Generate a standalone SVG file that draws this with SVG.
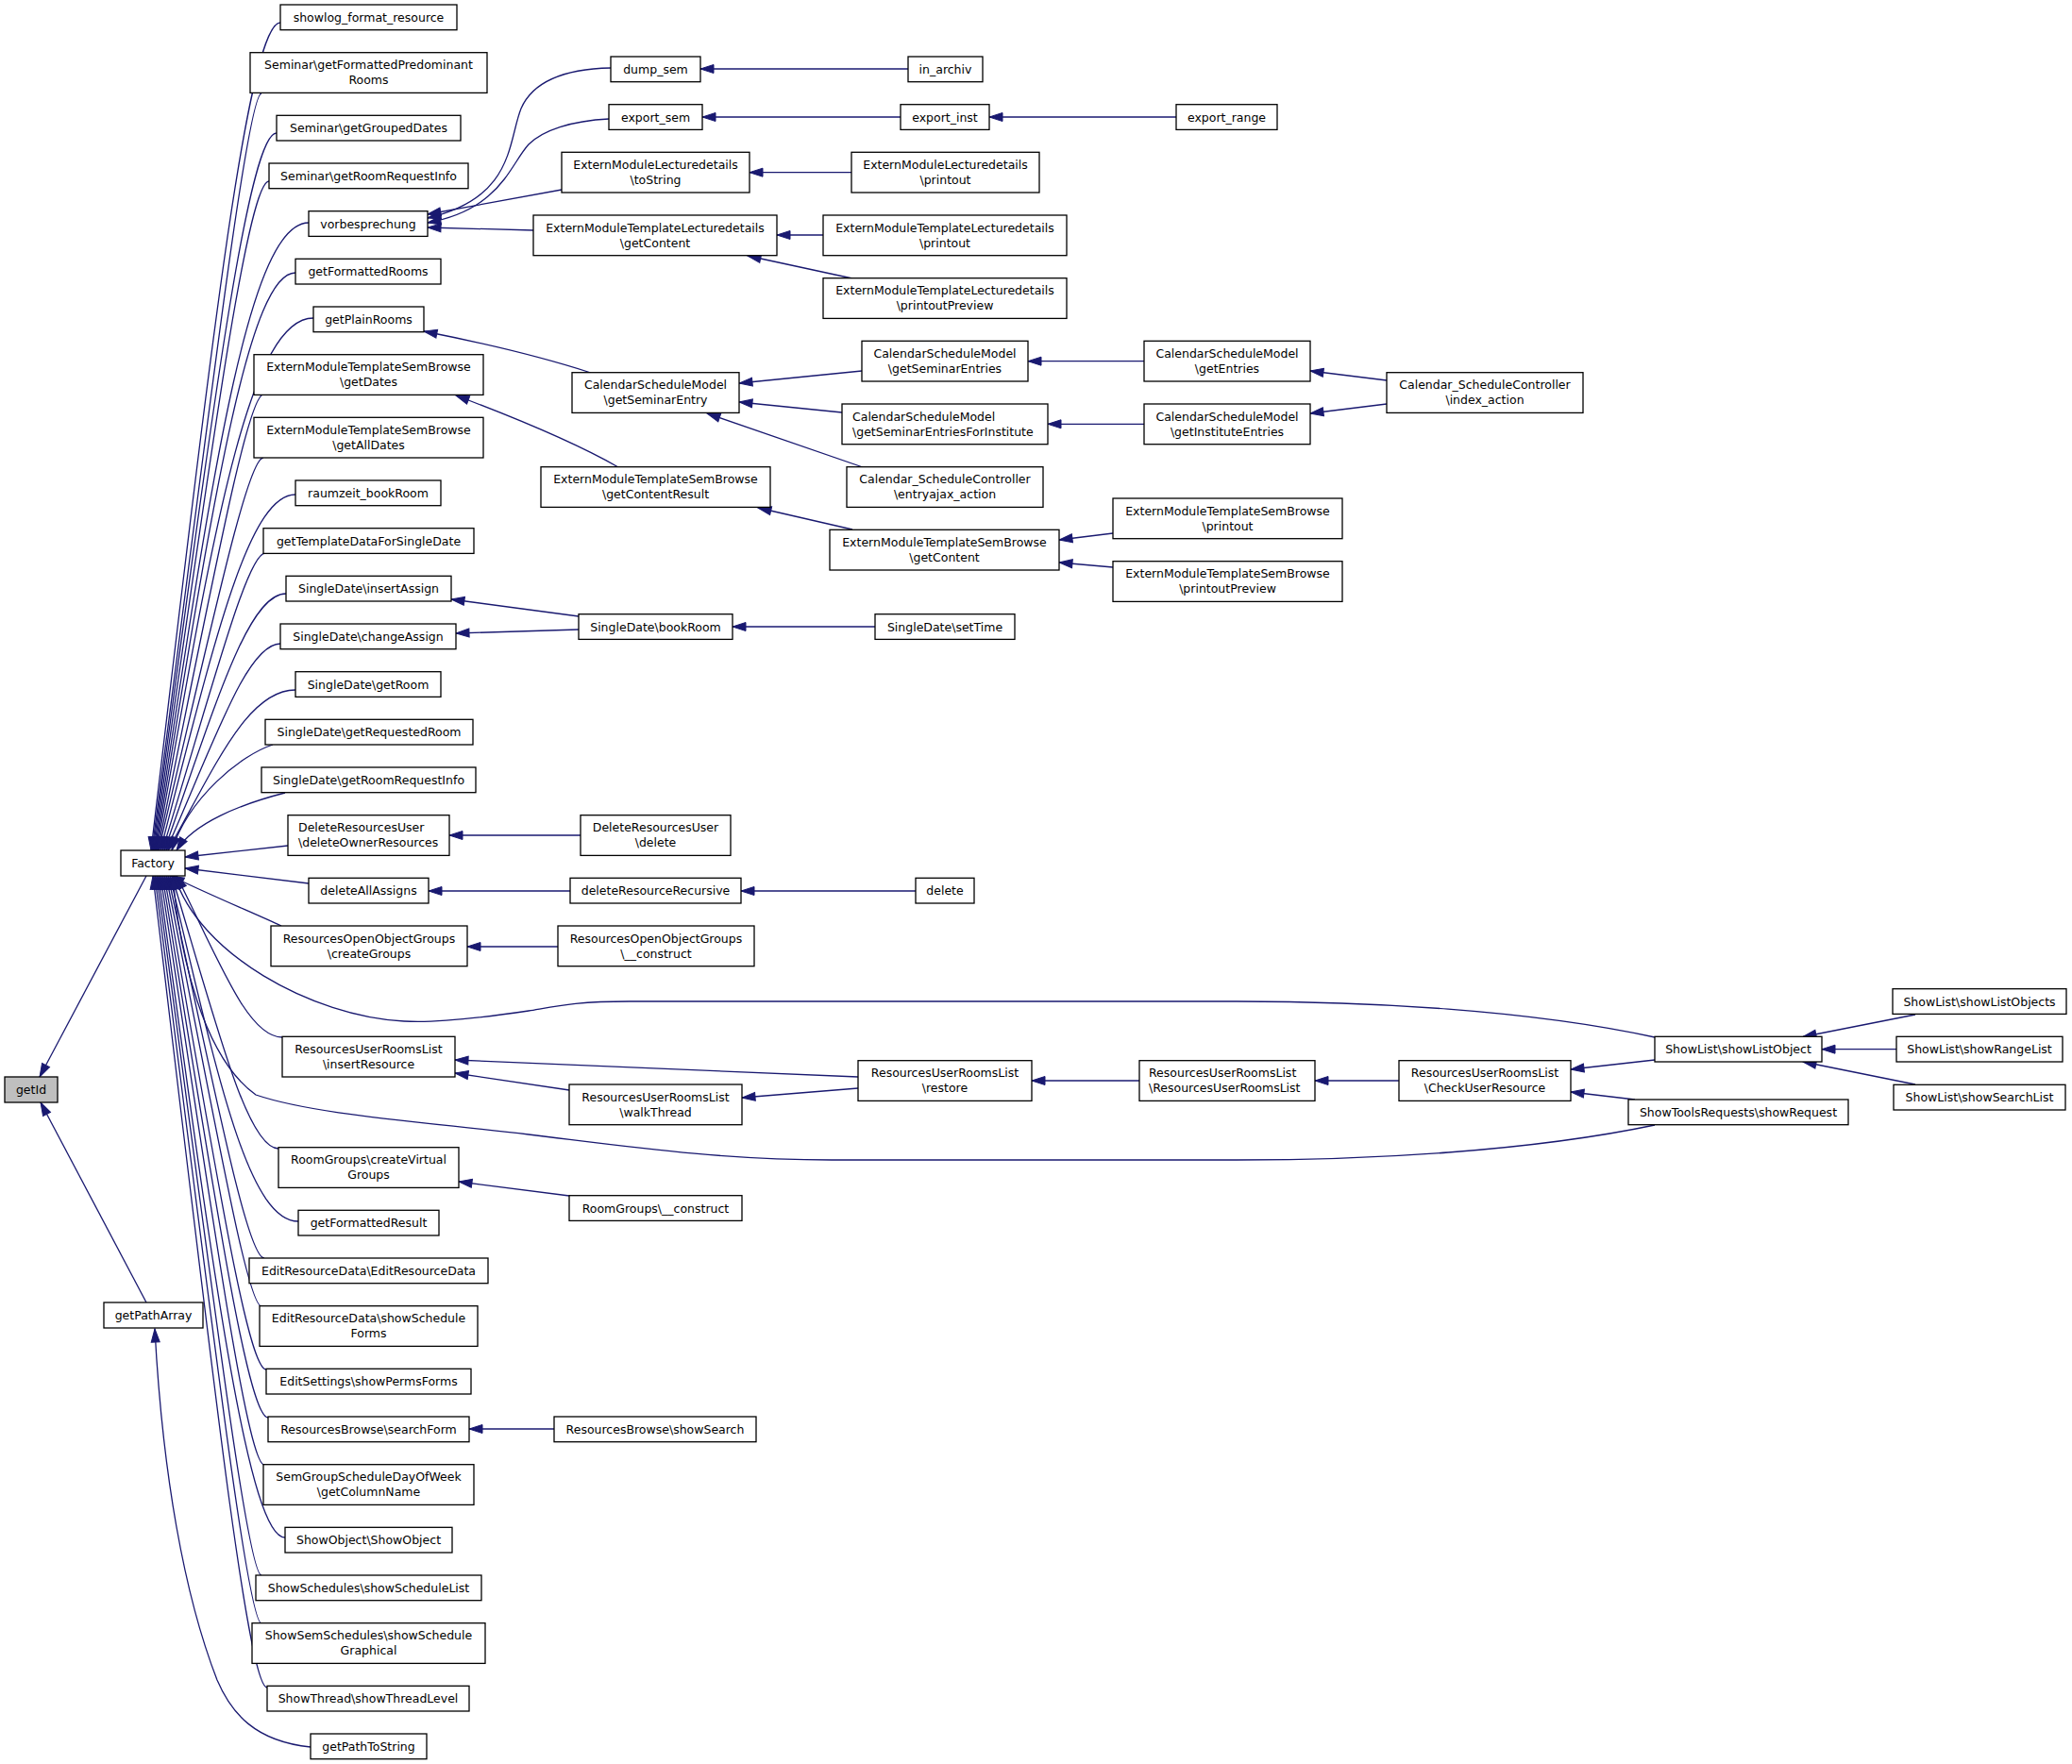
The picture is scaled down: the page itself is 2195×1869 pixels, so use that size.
<svg xmlns="http://www.w3.org/2000/svg" width="2195" height="1869" viewBox="0 0 2195 1869">
<style>
.n rect{fill:#fff;stroke:#000;stroke-width:1.3}
.n text{font-family:"DejaVu Sans",sans-serif;font-size:12.5px;fill:#000;text-anchor:middle}
.n text.l{text-anchor:start}
#edges path{fill:none;stroke:#191970;stroke-width:1.3;marker-end:url(#a)}
</style>
<defs>
<marker id="a" markerWidth="15" markerHeight="11" refX="14" refY="5" orient="auto" markerUnits="userSpaceOnUse" viewBox="0 0 15 10" overflow="visible">
<path d="M0,0.5 L14,5 L0,9.5 z" fill="#191970" stroke="#191970" stroke-width="1"/>
</marker>
</defs>
<rect width="2195" height="1869" fill="#fff"/>
<g id="edges">
<path d="M155,928 L42,1141"/>
<path d="M155,1380 L43,1168"/>
<path d="M329,1851 C270,1845 245,1815 230,1780 C195,1690 172,1560 164,1408"/>
<path d="M297,24 C262,24 221,388 160,901"/>
<path d="M277,99 C262,99 222,433 161,901"/>
<path d="M293,141 C262,141 222,458 162,901"/>
<path d="M285,192 C262,192 222,489 163,901"/>
<path d="M327,236 C262,236 223,515 164,901"/>
<path d="M313,289 C262,289 223,547 165,901"/>
<path d="M332,337 C262,337 224,576 166,901"/>
<path d="M279,418 C262,418 224,624 167,901"/>
<path d="M279,485 C262,485 224,665 168,901"/>
<path d="M313,524 C262,524 225,688 170,901"/>
<path d="M281,586 C262,586 226,725 172,901"/>
<path d="M303,629 C262,629 227,751 174,901"/>
<path d="M297,682 C262,682 228,783 176,901"/>
<path d="M313,731 C262,731 228,812 178,901"/>
<path d="M289,789 C255,800 200,845 182,901"/>
<path d="M302,840 C255,852 205,872 187,901"/>
<path d="M305,896 L196,908"/>
<path d="M327,936 L196,920"/>
<path d="M298,981 C270,968 215,945 181,928"/>
<path d="M299,1099 C262,1099 232,1017 187,928"/>
<path d="M295,1217 C262,1217 230,1088 182,928"/>
<path d="M316,1294 C262,1294 229,1134 180,928"/>
<path d="M280,1333 C262,1333 228,1158 178,928"/>
<path d="M277,1384 C262,1384 228,1188 176,928"/>
<path d="M282,1451 C262,1451 227,1229 174,928"/>
<path d="M284,1502 C262,1502 226,1259 172,928"/>
<path d="M280,1552 C262,1552 225,1289 170,928"/>
<path d="M302,1629 C262,1629 224,1335 168,928"/>
<path d="M277,1669 C262,1669 224,1359 166,928"/>
<path d="M277,1720 C262,1720 223,1390 164,928"/>
<path d="M283,1788 C262,1788 222,1431 162,928"/>
<path d="M1753,1099 C1620,1070 1450,1061 1310,1061 L667,1061 C610,1061 590,1066 560,1071 C500,1080 460,1084 428,1082 C330,1077 210,1010 185,928"/>
<path d="M1753,1192 C1620,1220 1450,1229 1310,1229 L881,1229 C760,1229 660,1214 560,1202 C430,1187 330,1180 271,1160 C215,1120 190,1010 183,928"/>
<path d="M647,72 C600,73 565,85 552,115 C538,150 545,210 453,231"/>
<path d="M645,126 C605,128 575,138 560,153 C540,175 530,222 453,236"/>
<path d="M595,201 L453,227"/>
<path d="M565,244 L453,241"/>
<path d="M962,73 L742,73"/>
<path d="M954,124 L744,124"/>
<path d="M1246,124 L1048,124"/>
<path d="M902,182.7 L794,182.7"/>
<path d="M872,249 L823,249"/>
<path d="M903,295 L792,271"/>
<path d="M626,395 C580,380 520,365 449,351"/>
<path d="M913,393 L783,406"/>
<path d="M892,437 L783,426"/>
<path d="M914,495 L749,438"/>
<path d="M655,495 C620,475 560,448 483,419"/>
<path d="M903,561 L803,538"/>
<path d="M1179,565 L1122,572"/>
<path d="M1179,601 L1122,596"/>
<path d="M1212,382.7 L1089,382.7"/>
<path d="M1212,449.3 L1110,449.3"/>
<path d="M1469,403 L1388,393"/>
<path d="M1469,428 L1388,438"/>
<path d="M613,653 L478,635"/>
<path d="M613,667 L483,671"/>
<path d="M927,664 L776,664"/>
<path d="M615,885 L476,885"/>
<path d="M604,944 L454,944"/>
<path d="M970,944 L785,944"/>
<path d="M591,1003 L495,1003"/>
<path d="M909,1141 L482,1123"/>
<path d="M909,1153 L786,1163"/>
<path d="M603,1155 L482,1137"/>
<path d="M1207,1145 L1093,1145"/>
<path d="M1482,1145 L1393,1145"/>
<path d="M1753,1123 L1664,1133"/>
<path d="M1732,1165 L1664,1157"/>
<path d="M2029,1075 L1910,1098.5"/>
<path d="M2009,1111.7 L1930,1111.7"/>
<path d="M2029,1149 L1910,1125"/>
<path d="M603,1267 L486,1252"/>
<path d="M587,1514 L497,1514"/>
</g>
<g id="getId" class="n"><rect x="5" y="1141" width="56" height="27" style="fill:#bfbfbf"/><text x="33" y="1159">getId</text></g>
<g id="Factory" class="n"><rect x="128" y="901" width="68" height="27"/><text x="162" y="919">Factory</text></g>
<g id="getPathArray" class="n"><rect x="110" y="1380" width="105" height="27"/><text x="162.5" y="1398">getPathArray</text></g>
<g id="c1" class="n"><rect x="297" y="5" width="187" height="26.7"/><text x="390.5" y="23">showlog_format_resource</text></g>
<g id="c2" class="n"><rect x="265" y="55.7" width="251" height="42.7"/><text x="390.5" y="73.2">Seminar\getFormattedPredominant</text><text x="390.5" y="89.2">Rooms</text></g>
<g id="c3" class="n"><rect x="293" y="122.3" width="195" height="26.7"/><text x="390.5" y="140.3">Seminar\getGroupedDates</text></g>
<g id="c4" class="n"><rect x="285" y="173" width="211" height="26.7"/><text x="390.5" y="191">Seminar\getRoomRequestInfo</text></g>
<g id="c5" class="n"><rect x="327" y="223.7" width="126" height="26.7"/><text x="390" y="241.7">vorbesprechung</text></g>
<g id="c6" class="n"><rect x="313" y="274.3" width="154" height="26.7"/><text x="390" y="292.3">getFormattedRooms</text></g>
<g id="c7" class="n"><rect x="332" y="325" width="117" height="26.7"/><text x="390.5" y="343">getPlainRooms</text></g>
<g id="c8" class="n"><rect x="269" y="375.7" width="243" height="42.7"/><text x="390.5" y="393.2">ExternModuleTemplateSemBrowse</text><text x="390.5" y="409.2">\getDates</text></g>
<g id="c9" class="n"><rect x="269" y="442.3" width="243" height="42.7"/><text x="390.5" y="459.8">ExternModuleTemplateSemBrowse</text><text x="390.5" y="475.8">\getAllDates</text></g>
<g id="c10" class="n"><rect x="313" y="509" width="154" height="26.7"/><text x="390" y="527">raumzeit_bookRoom</text></g>
<g id="c11" class="n"><rect x="279" y="559.7" width="223" height="26.7"/><text x="390.5" y="577.7">getTemplateDataForSingleDate</text></g>
<g id="c12" class="n"><rect x="303" y="610.3" width="175" height="26.7"/><text x="390.5" y="628.3">SingleDate\insertAssign</text></g>
<g id="c13" class="n"><rect x="297" y="661" width="186" height="26.7"/><text x="390" y="679">SingleDate\changeAssign</text></g>
<g id="c14" class="n"><rect x="313" y="711.7" width="154" height="26.7"/><text x="390" y="729.7">SingleDate\getRoom</text></g>
<g id="c15" class="n"><rect x="281" y="762.3" width="220" height="26.7"/><text x="391" y="780.3">SingleDate\getRequestedRoom</text></g>
<g id="c16" class="n"><rect x="277" y="813" width="227" height="26.7"/><text x="390.5" y="831">SingleDate\getRoomRequestInfo</text></g>
<g id="c17" class="n"><rect x="305" y="863.7" width="171" height="42.7"/><text class="l" x="316" y="881.2">DeleteResourcesUser</text><text class="l" x="316" y="897.2">\deleteOwnerResources</text></g>
<g id="c18" class="n"><rect x="327" y="930.3" width="127" height="26.7"/><text x="390.5" y="948.3">deleteAllAssigns</text></g>
<g id="c19" class="n"><rect x="287" y="981" width="208" height="42.7"/><text x="391" y="998.5">ResourcesOpenObjectGroups</text><text x="391" y="1014.5">\createGroups</text></g>
<g id="c20" class="n"><rect x="299" y="1098.3" width="183" height="42.7"/><text x="390.5" y="1115.8">ResourcesUserRoomsList</text><text x="390.5" y="1131.8">\insertResource</text></g>
<g id="c21" class="n"><rect x="295" y="1215.7" width="191" height="42.7"/><text x="390.5" y="1233.2">RoomGroups\createVirtual</text><text x="390.5" y="1249.2">Groups</text></g>
<g id="c22" class="n"><rect x="316" y="1282.3" width="149" height="26.7"/><text x="390.5" y="1300.3">getFormattedResult</text></g>
<g id="c23" class="n"><rect x="264" y="1333" width="253" height="26.7"/><text x="390.5" y="1351">EditResourceData\EditResourceData</text></g>
<g id="c24" class="n"><rect x="275" y="1383.7" width="231" height="42.7"/><text x="390.5" y="1401.2">EditResourceData\showSchedule</text><text x="390.5" y="1417.2">Forms</text></g>
<g id="c25" class="n"><rect x="282" y="1450.3" width="217" height="26.7"/><text x="390.5" y="1468.3">EditSettings\showPermsForms</text></g>
<g id="c26" class="n"><rect x="284" y="1501" width="213" height="26.7"/><text x="390.5" y="1519">ResourcesBrowse\searchForm</text></g>
<g id="c27" class="n"><rect x="279" y="1551.7" width="223" height="42.7"/><text x="390.5" y="1569.2">SemGroupScheduleDayOfWeek</text><text x="390.5" y="1585.2">\getColumnName</text></g>
<g id="c28" class="n"><rect x="302" y="1618.3" width="177" height="26.7"/><text x="390.5" y="1636.3">ShowObject\ShowObject</text></g>
<g id="c29" class="n"><rect x="271" y="1669" width="239" height="26.7"/><text x="390.5" y="1687">ShowSchedules\showScheduleList</text></g>
<g id="c30" class="n"><rect x="267" y="1719.7" width="247" height="42.7"/><text x="390.5" y="1737.2">ShowSemSchedules\showSchedule</text><text x="390.5" y="1753.2">Graphical</text></g>
<g id="c31" class="n"><rect x="283" y="1786.3" width="214" height="26.7"/><text x="390" y="1804.3">ShowThread\showThreadLevel</text></g>
<g id="c32" class="n"><rect x="329" y="1837" width="123" height="26.7"/><text x="390.5" y="1855">getPathToString</text></g>
<g id="dump_sem" class="n"><rect x="647" y="60" width="95" height="26.7"/><text x="694.5" y="78">dump_sem</text></g>
<g id="in_archiv" class="n"><rect x="962" y="60" width="79" height="26.7"/><text x="1001.5" y="78">in_archiv</text></g>
<g id="export_sem" class="n"><rect x="645" y="110.7" width="99" height="26.7"/><text x="694.5" y="128.7">export_sem</text></g>
<g id="export_inst" class="n"><rect x="954" y="110.7" width="94" height="26.7"/><text x="1001" y="128.7">export_inst</text></g>
<g id="export_range" class="n"><rect x="1246" y="110.7" width="107" height="26.7"/><text x="1299.5" y="128.7">export_range</text></g>
<g id="emld_toString" class="n"><rect x="595" y="161.3" width="199" height="42.7"/><text x="694.5" y="178.8">ExternModuleLecturedetails</text><text x="694.5" y="194.8">\toString</text></g>
<g id="emld_printout" class="n"><rect x="902" y="161.3" width="199" height="42.7"/><text x="1001.5" y="178.8">ExternModuleLecturedetails</text><text x="1001.5" y="194.8">\printout</text></g>
<g id="emtld_getContent" class="n"><rect x="565" y="228" width="258" height="42.7"/><text x="694" y="245.5">ExternModuleTemplateLecturedetails</text><text x="694" y="261.5">\getContent</text></g>
<g id="emtld_printout" class="n"><rect x="872" y="228" width="258" height="42.7"/><text x="1001" y="245.5">ExternModuleTemplateLecturedetails</text><text x="1001" y="261.5">\printout</text></g>
<g id="emtld_printoutPreview" class="n"><rect x="872" y="294.7" width="258" height="42.7"/><text x="1001" y="312.2">ExternModuleTemplateLecturedetails</text><text x="1001" y="328.2">\printoutPreview</text></g>
<g id="csm_getSeminarEntries" class="n"><rect x="913" y="361.3" width="176" height="42.7"/><text x="1001" y="378.8">CalendarScheduleModel</text><text x="1001" y="394.8">\getSeminarEntries</text></g>
<g id="csm_getEntries" class="n"><rect x="1212" y="361.3" width="176" height="42.7"/><text x="1300" y="378.8">CalendarScheduleModel</text><text x="1300" y="394.8">\getEntries</text></g>
<g id="csm_getSeminarEntry" class="n"><rect x="606" y="394.7" width="177" height="42.7"/><text x="694.5" y="412.2">CalendarScheduleModel</text><text x="694.5" y="428.2">\getSeminarEntry</text></g>
<g id="csc_index_action" class="n"><rect x="1469" y="394.7" width="208" height="42.7"/><text x="1573" y="412.2">Calendar_ScheduleController</text><text x="1573" y="428.2">\index_action</text></g>
<g id="csm_getSeminarEntriesForInstitute" class="n"><rect x="892" y="428" width="218" height="42.7"/><text class="l" x="903" y="445.5">CalendarScheduleModel</text><text class="l" x="903" y="461.5">\getSeminarEntriesForInstitute</text></g>
<g id="csm_getInstituteEntries" class="n"><rect x="1212" y="428" width="176" height="42.7"/><text x="1300" y="445.5">CalendarScheduleModel</text><text x="1300" y="461.5">\getInstituteEntries</text></g>
<g id="emtsb_getContentResult" class="n"><rect x="573" y="494.7" width="243" height="42.7"/><text x="694.5" y="512.2">ExternModuleTemplateSemBrowse</text><text x="694.5" y="528.2">\getContentResult</text></g>
<g id="csc_entryajax_action" class="n"><rect x="897" y="494.7" width="208" height="42.7"/><text x="1001" y="512.2">Calendar_ScheduleController</text><text x="1001" y="528.2">\entryajax_action</text></g>
<g id="emtsb_printout" class="n"><rect x="1179" y="528" width="243" height="42.7"/><text x="1300.5" y="545.5">ExternModuleTemplateSemBrowse</text><text x="1300.5" y="561.5">\printout</text></g>
<g id="emtsb_getContent" class="n"><rect x="879" y="561.3" width="243" height="42.7"/><text x="1000.5" y="578.8">ExternModuleTemplateSemBrowse</text><text x="1000.5" y="594.8">\getContent</text></g>
<g id="emtsb_printoutPreview" class="n"><rect x="1179" y="594.7" width="243" height="42.7"/><text x="1300.5" y="612.2">ExternModuleTemplateSemBrowse</text><text x="1300.5" y="628.2">\printoutPreview</text></g>
<g id="sd_bookRoom" class="n"><rect x="613" y="650.7" width="163" height="26.7"/><text x="694.5" y="668.7">SingleDate\bookRoom</text></g>
<g id="sd_setTime" class="n"><rect x="927" y="650.7" width="148" height="26.7"/><text x="1001" y="668.7">SingleDate\setTime</text></g>
<g id="dru_delete" class="n"><rect x="615" y="863.7" width="159" height="42.7"/><text x="694.5" y="881.2">DeleteResourcesUser</text><text x="694.5" y="897.2">\delete</text></g>
<g id="deleteResourceRecursive" class="n"><rect x="604" y="930.3" width="181" height="26.7"/><text x="694.5" y="948.3">deleteResourceRecursive</text></g>
<g id="delete" class="n"><rect x="970" y="930.3" width="62" height="26.7"/><text x="1001" y="948.3">delete</text></g>
<g id="roog_construct" class="n"><rect x="591" y="981" width="208" height="42.7"/><text x="695" y="998.5">ResourcesOpenObjectGroups</text><text x="695" y="1014.5">\__construct</text></g>
<g id="rurl_walkThread" class="n"><rect x="603" y="1149" width="183" height="42.7"/><text x="694.5" y="1166.5">ResourcesUserRoomsList</text><text x="694.5" y="1182.5">\walkThread</text></g>
<g id="rurl_restore" class="n"><rect x="909" y="1123.7" width="184" height="42.7"/><text x="1001" y="1141.2">ResourcesUserRoomsList</text><text x="1001" y="1157.2">\restore</text></g>
<g id="rurl_rurl" class="n"><rect x="1207" y="1123.7" width="186" height="42.7"/><text class="l" x="1217" y="1141.2">ResourcesUserRoomsList</text><text class="l" x="1217" y="1157.2">\ResourcesUserRoomsList</text></g>
<g id="rurl_CheckUserResource" class="n"><rect x="1482" y="1123.7" width="182" height="42.7"/><text x="1573" y="1141.2">ResourcesUserRoomsList</text><text x="1573" y="1157.2">\CheckUserResource</text></g>
<g id="rg_construct" class="n"><rect x="603" y="1266.7" width="183" height="26.7"/><text x="694.5" y="1284.7">RoomGroups\__construct</text></g>
<g id="rb_showSearch" class="n"><rect x="587" y="1501" width="214" height="26.7"/><text x="694" y="1519">ResourcesBrowse\showSearch</text></g>
<g id="sl_showListObject" class="n"><rect x="1753" y="1098.3" width="177" height="26.7"/><text x="1841.5" y="1116.3">ShowList\showListObject</text></g>
<g id="str_showRequest" class="n"><rect x="1725" y="1165" width="233" height="26.7"/><text x="1841.5" y="1183">ShowToolsRequests\showRequest</text></g>
<g id="sl_showListObjects" class="n"><rect x="2005" y="1047.7" width="184" height="26.7"/><text x="2097" y="1065.7">ShowList\showListObjects</text></g>
<g id="sl_showRangeList" class="n"><rect x="2009" y="1098.3" width="176" height="26.7"/><text x="2097" y="1116.3">ShowList\showRangeList</text></g>
<g id="sl_showSearchList" class="n"><rect x="2006" y="1149.3" width="182" height="26.7"/><text x="2097" y="1167.3">ShowList\showSearchList</text></g>
</svg>
